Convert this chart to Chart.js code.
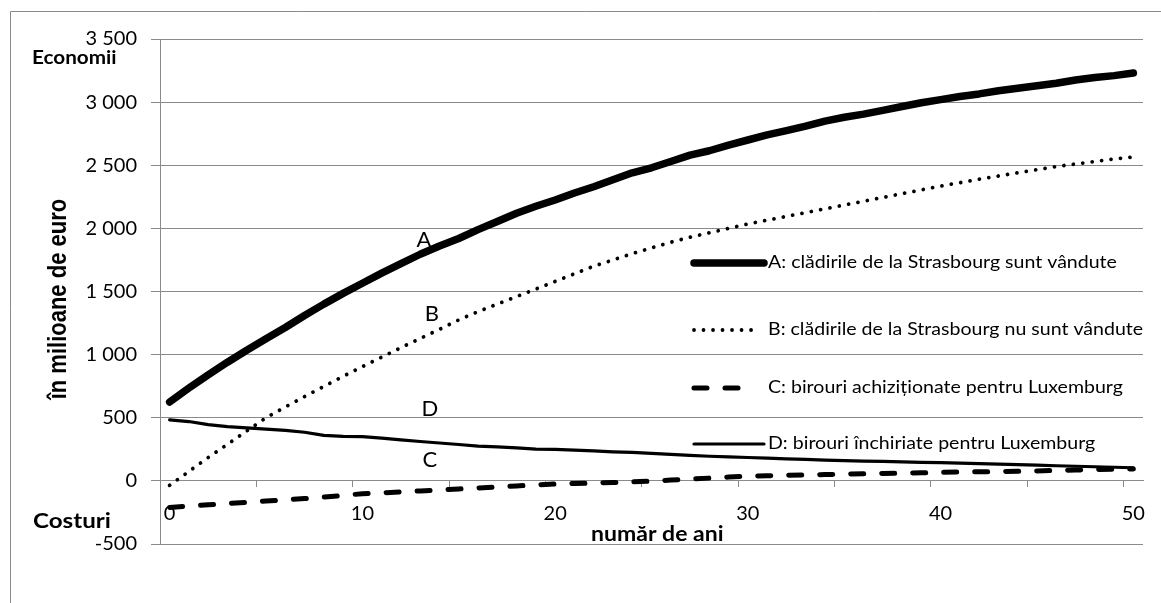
<!DOCTYPE html>
<html lang="ro">
<head>
<meta charset="utf-8">
<title>Economii și costuri</title>
<script src="https://cdn.jsdelivr.net/npm/chart.js@4/dist/chart.umd.min.js"></script>
<style>
  html, body { margin: 0; padding: 0; background: #fff; }
  #wrap { position: relative; width: 1161px; height: 603px; }
</style>
</head>
<body>
<div id="wrap"><canvas id="c" width="1161" height="603"></canvas></div>
<script>
// Years after the decision (category axis)
const years = ['0','1','2','3','4','5','6','7','8','9','10','11','12','13','14','15','16','17','18','19','20',
  '21','22','23','24','25','26','27','28','29','30','31','32','33','34','35','36','37','38','39','40',
  '41','42','43','44','45','46','47','48','49','50'];

// Cumulative savings (+) / costs (-), million euro
const seriesA = [625,735,840,940,1035,1125,1215,1310,1400,1485,1565,1645,1720,1795,1860,1920,1990,2055,2120,2175,2225,
  2280,2330,2385,2440,2480,2530,2580,2615,2660,2700,2740,2775,2810,2850,2880,2905,2935,2965,2995,3020,
  3045,3065,3090,3110,3130,3150,3175,3195,3210,3230];
const seriesB = [-35,75,185,290,395,500,585,668,748,828,905,980,1055,1128,1200,1275,1340,1400,1460,1520,1580,
  1640,1700,1750,1800,1845,1890,1930,1965,2000,2035,2065,2095,2125,2155,2185,2215,2245,2275,2305,2335,
  2362,2390,2415,2440,2465,2490,2510,2530,2550,2565];
const seriesC = [-210,-200,-190,-180,-170,-160,-150,-140,-128,-115,-102,-95,-87,-80,-72,-64,-56,-48,-40,-32,-25,
  -21,-17,-13,-8,-2,6,14,22,30,38,41,44,47,50,53,56,59,62,64,67,
  70,72,74,76,79,83,86,89,92,95];
const seriesD = [483,470,445,430,420,410,400,385,360,352,350,338,325,312,300,288,275,270,262,252,250,
  243,238,230,225,218,210,202,195,190,185,180,175,170,165,160,157,155,150,147,145,
  140,136,132,128,124,120,116,112,108,104];

const seriesNames = [
  'A: clădirile de la Strasbourg sunt vândute',
  'B: clădirile de la Strasbourg nu sunt vândute',
  'C: birouri achiziționate pentru Luxemburg',
  'D: birouri închiriate pentru Luxemburg'
];
const yTicks = [-500, 0, 500, 1000, 1500, 2000, 2500, 3000, 3500];

const GRAY = '#8a8a8a';
const FONT = 'Lato, "Open Sans", sans-serif';
const WIDE = 1.15; // horizontal stretch of the free texts

function fmt(v) {
  const s = String(Math.abs(v));
  const grouped = s.replace(/\B(?=(\d{3})+(?!\d))/g, ' ');
  return (v < 0 ? '-' : '') + grouped;
}

// text drawn with a horizontal stretch; align: 'left' | 'center'
function wideText(c, text, x, y, font, align) {
  c.save();
  c.font = font;
  c.textBaseline = 'middle';
  c.textAlign = 'left';
  const w = c.measureText(text).width * WIDE;
  const x0 = align === 'center' ? x - w / 2 : x;
  c.translate(x0, y);
  c.scale(WIDE, 1);
  c.fillText(text, 0, 0);
  c.restore();
}

// Frame, free texts and the legend drawn on the canvas
const decorations = {
  id: 'decorations',
  beforeDraw(chart) {
    const c = chart.ctx;
    c.save();
    c.strokeStyle = GRAY;
    c.lineWidth = 1;
    c.beginPath();
    c.moveTo(10.5, 603);
    c.lineTo(10.5, 11.5);
    c.lineTo(1161, 11.5);
    c.stroke();
    c.restore();
  },
  afterDraw(chart) {
    const c = chart.ctx;
    const xs = chart.scales.x, ys = chart.scales.y;
    const xAt = v => xs.left + (xs.right - xs.left) * (v + 0.5) / years.length;
    c.save();
    c.fillStyle = '#000';

    // side captions
    wideText(c, 'Economii', 32, ys.getPixelForValue(3345), 'bold 18px ' + FONT, 'left');
    wideText(c, 'Costuri', 33, ys.getPixelForValue(-320), 'bold 21px ' + FONT, 'left');

    // x-axis caption
    wideText(c, 'număr de ani', xAt(25.3), ys.getPixelForValue(-425), 'bold 20px ' + FONT, 'center');

    // y-axis caption
    c.save();
    c.translate(59, ys.getPixelForValue(1440));
    c.scale(WIDE, 1);
    c.rotate(-Math.PI / 2);
    c.font = 'bold 22px "Liberation Sans", Arial, sans-serif';
    c.textAlign = 'center';
    c.textBaseline = 'middle';
    c.fillText('în milioane de euro', 0, 0);
    c.restore();

    // curve letters
    c.textAlign = 'center';
    c.textBaseline = 'middle';
    c.font = '22px ' + FONT;
    c.fillText('A', xAt(13.2), ys.getPixelForValue(1912));
    c.fillText('B', xAt(13.6), ys.getPixelForValue(1325));
    c.fillText('D', xAt(13.5), ys.getPixelForValue(567));
    c.fillText('C', xAt(13.5), ys.getPixelForValue(164));

    // legend
    const rows = [263, 330, 388, 444];
    const sampleLen = [70, 62, 52, 70];
    chart.data.datasets.forEach((ds, i) => {
      const y = rows[i];
      c.save();
      c.strokeStyle = ds.borderColor;
      c.lineWidth = ds.borderWidth;
      c.lineCap = ds.borderCapStyle || 'butt';
      c.setLineDash(ds.borderDash || []);
      c.beginPath();
      c.moveTo(694, y);
      c.lineTo(694 + sampleLen[i], y);
      c.stroke();
      c.restore();
      wideText(c, ds.label, 768, y, '17px ' + FONT, 'left');
    });
    c.restore();
  }
};

const lineBase = { pointRadius: 0, pointHoverRadius: 0, tension: 0, fill: false, borderColor: '#000', borderJoinStyle: 'round' };

new Chart(document.getElementById('c'), {
  type: 'line',
  data: {
    labels: years,
    datasets: [
      Object.assign({}, lineBase, { label: seriesNames[0], data: seriesA, borderWidth: 7.5, borderCapStyle: 'round' }),
      Object.assign({}, lineBase, { label: seriesNames[1], data: seriesB, borderWidth: 3.8, borderCapStyle: 'round', borderDash: [0.01, 9.5] }),
      Object.assign({}, lineBase, { label: seriesNames[2], data: seriesC, borderWidth: 5, borderCapStyle: 'round', borderDash: [13, 18] }),
      Object.assign({}, lineBase, { label: seriesNames[3], data: seriesD, borderWidth: 3.2, borderCapStyle: 'round' })
    ]
  },
  options: {
    responsive: false,
    animation: false,
    layout: { padding: { left: 0, top: 39, right: 18, bottom: 59 } },
    plugins: { legend: { display: false }, tooltip: { enabled: false } },
    scales: {
      x: {
        type: 'category',
        position: { y: 0 },
        offset: true,
        grid: {
          offset: true,
          drawOnChartArea: false,
          drawTicks: true,
          tickLength: 6,
          color: ctx => (ctx.index !== undefined && ctx.index % 5 === 0 && ctx.index > 0) ? GRAY : 'rgba(0,0,0,0)'
        },
        border: { color: GRAY, width: 1 },
        ticks: {
          autoSkip: false,
          maxRotation: 0,
          padding: 15,
          color: '#000',
          font: { family: FONT, size: 20 },
          callback: (v, i) => (i % 10 === 0 ? years[i] : '')
        }
      },
      y: {
        min: -500,
        max: 3500,
        afterBuildTicks: s => { s.ticks = yTicks.map(v => ({ value: v })); },
        afterFit: s => { s.width = 160; },
        grid: { color: GRAY, lineWidth: 1, tickLength: 9, drawTicks: true },
        border: { color: GRAY, width: 1 },
        ticks: {
          padding: 14,
          color: '#000',
          font: { family: FONT, size: 20 },
          callback: v => fmt(v)
        }
      }
    }
  },
  plugins: [decorations]
});
</script>
</body>
</html>
